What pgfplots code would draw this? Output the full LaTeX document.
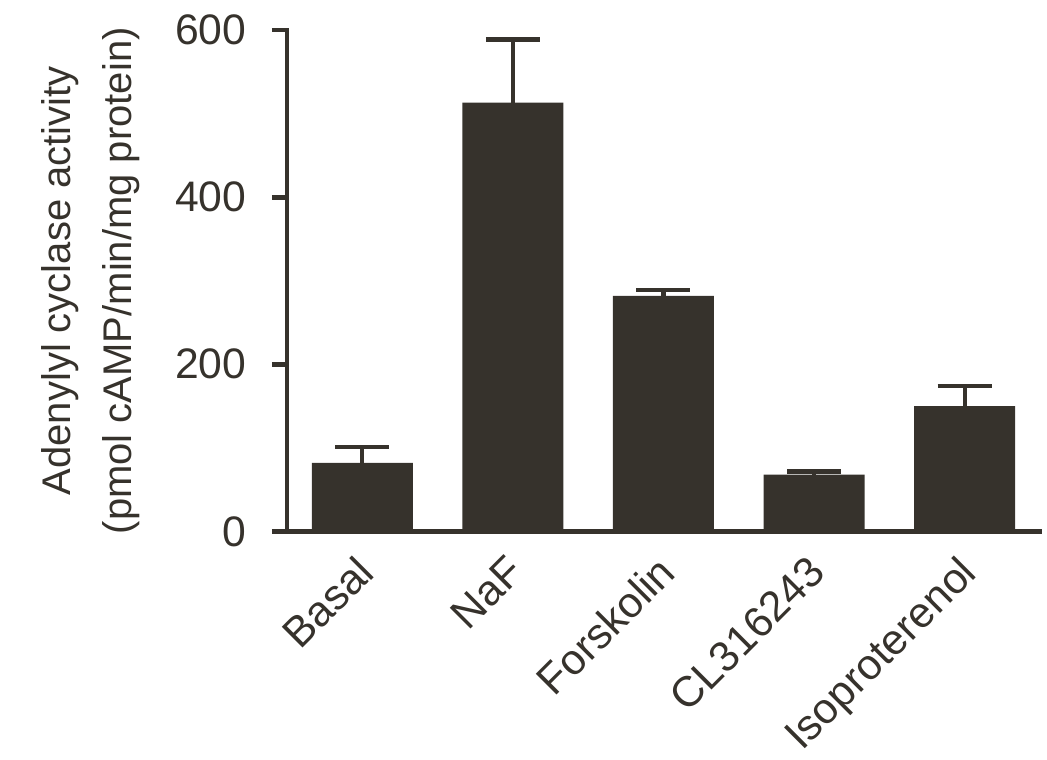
\documentclass[border=0pt]{standalone}
\usepackage{fontspec}
\setmainfont{Liberation Sans}
\usepackage{pgfplots}
\usepackage{pgfplotstable}
\pgfplotsset{compat=1.18}

\definecolor{barc}{RGB}{54,50,44}

% mean and SEM of adenylyl cyclase activity per treatment
\pgfplotstableread{
x  y    err
0  82   19
1  513  76
2  282  7
3  68   4
4  150  24
}\acdata

\begin{document}
\begin{tikzpicture}
\begin{axis}[
  at={(0,0)}, anchor=south west,
  scale only axis,
  width=564.75pt, height=376.1pt,
  xmin=-0.5, xmax=4.5,
  ymin=0, ymax=600,
  axis x line*=bottom, axis y line*=left,
  axis line style={line width=3.6pt, color=barc, line cap=rect},
  every outer x axis line/.append style={-},
  every outer y axis line/.append style={-},
  ytick={0,200,400,600},
  xtick=data,
  xticklabels={Basal,NaF,Forskolin,CL316243,Isoproterenol},
  x tick label style={xshift=-6pt, yshift=-5pt, rotate=45, anchor=north east,
    inner sep=0pt, font=\fontsize{32}{38}\selectfont},
  y tick label style={inner sep=0pt, xshift=-19pt, font=\fontsize{32}{38}\selectfont},
  major x tick style={draw=none},
  major y tick style={line width=3.6pt, color=barc},
  tick align=outside,
  major tick length=11.25pt,
  ticklabel style={text=barc},
  /pgf/number format/assume math mode=true,
  every axis y label/.style={
    at={(axis description cs:-0.195,0.5)}, rotate=90, anchor=south,
    inner sep=0pt, align=center, text=barc,
    font=\fontsize{30}{46}\selectfont},
  ylabel={Adenylyl cyclase activity\\(pmol cAMP/min/mg protein)},
  clip=false,
]
\addplot[ybar, bar width=75.75pt, bar shift=0pt, fill=barc, draw=none,
  error bars/.cd, y dir=plus, y explicit,
  error bar style={line width=3.2pt, color=barc},
  error mark options={rotate=90, line width=3.6pt, mark size=20.25pt, color=barc}]
  table[x=x, y=y, y error=err] {\acdata};
\end{axis}
\pgfresetboundingbox
\path[use as bounding box] (-215.25pt,-171.4pt) rectangle (570pt,398.6pt);
\end{tikzpicture}
\end{document}
